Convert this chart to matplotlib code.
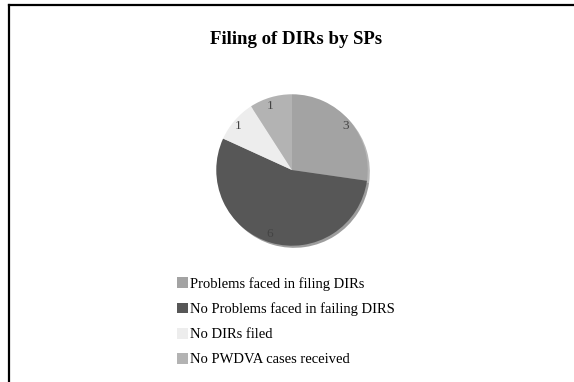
import matplotlib
matplotlib.use("Agg")
import matplotlib.pyplot as plt
from matplotlib.lines import Line2D

categories = ["Problems faced in filing DIRs", "No Problems faced in failing DIRS",
              "No DIRs filed", "No PWDVA cases received"]
values = [3, 6, 1, 1]
colors = ["#a3a3a3", "#575757", "#ededed", "#b3b3b3"]
title = "Filing of DIRs by SPs"

W, H = 574, 382
fig = plt.figure(figsize=(W / 100, H / 100), dpi=100)
# chart frame: only top and left edges fall inside the image
fig.lines.append(Line2D([9 / W, 1], [1 - 5 / H, 1 - 5 / H], transform=fig.transFigure,
                        color="black", linewidth=1.6))
fig.lines.append(Line2D([9 / W, 9 / W], [0, 1 - 5 / H], transform=fig.transFigure,
                        color="black", linewidth=1.6))

fig.text(296 / W, 1 - 40 / H, title, ha="center", va="center", family="Liberation Serif",
         fontsize=13.5, fontweight="bold")

cx, cy, r = 292, 170, 78
ax = fig.add_axes([(cx - r) / W, 1 - (cy + r) / H, 2 * r / W, 2 * r / H])
wedges, texts = ax.pie(values, colors=colors, startangle=90, counterclock=False,
                       labels=[str(v) for v in values], labeldistance=0.88,
                       shadow={"ox": 0.02, "oy": -0.02, "shade": 0.3},
                       textprops={"family": "Liberation Serif", "fontsize": 9.5, "color": "#444444"},
                       wedgeprops={"linewidth": 0})
ax.set_xlim(-1.03, 1.03)
ax.set_ylim(-1.03, 1.03)
ax.set_aspect("equal")

leg = fig.legend(wedges, categories, loc="upper left", bbox_to_anchor=(177 / W, 1 - 277 / H),
                 frameon=False, prop={"family": "Liberation Serif", "size": 10.5},
                 handlelength=0.75, handleheight=0.75, handletextpad=0.15, labelspacing=0.8,
                 borderaxespad=0, borderpad=0)

fig.savefig("out.png", dpi=100)
